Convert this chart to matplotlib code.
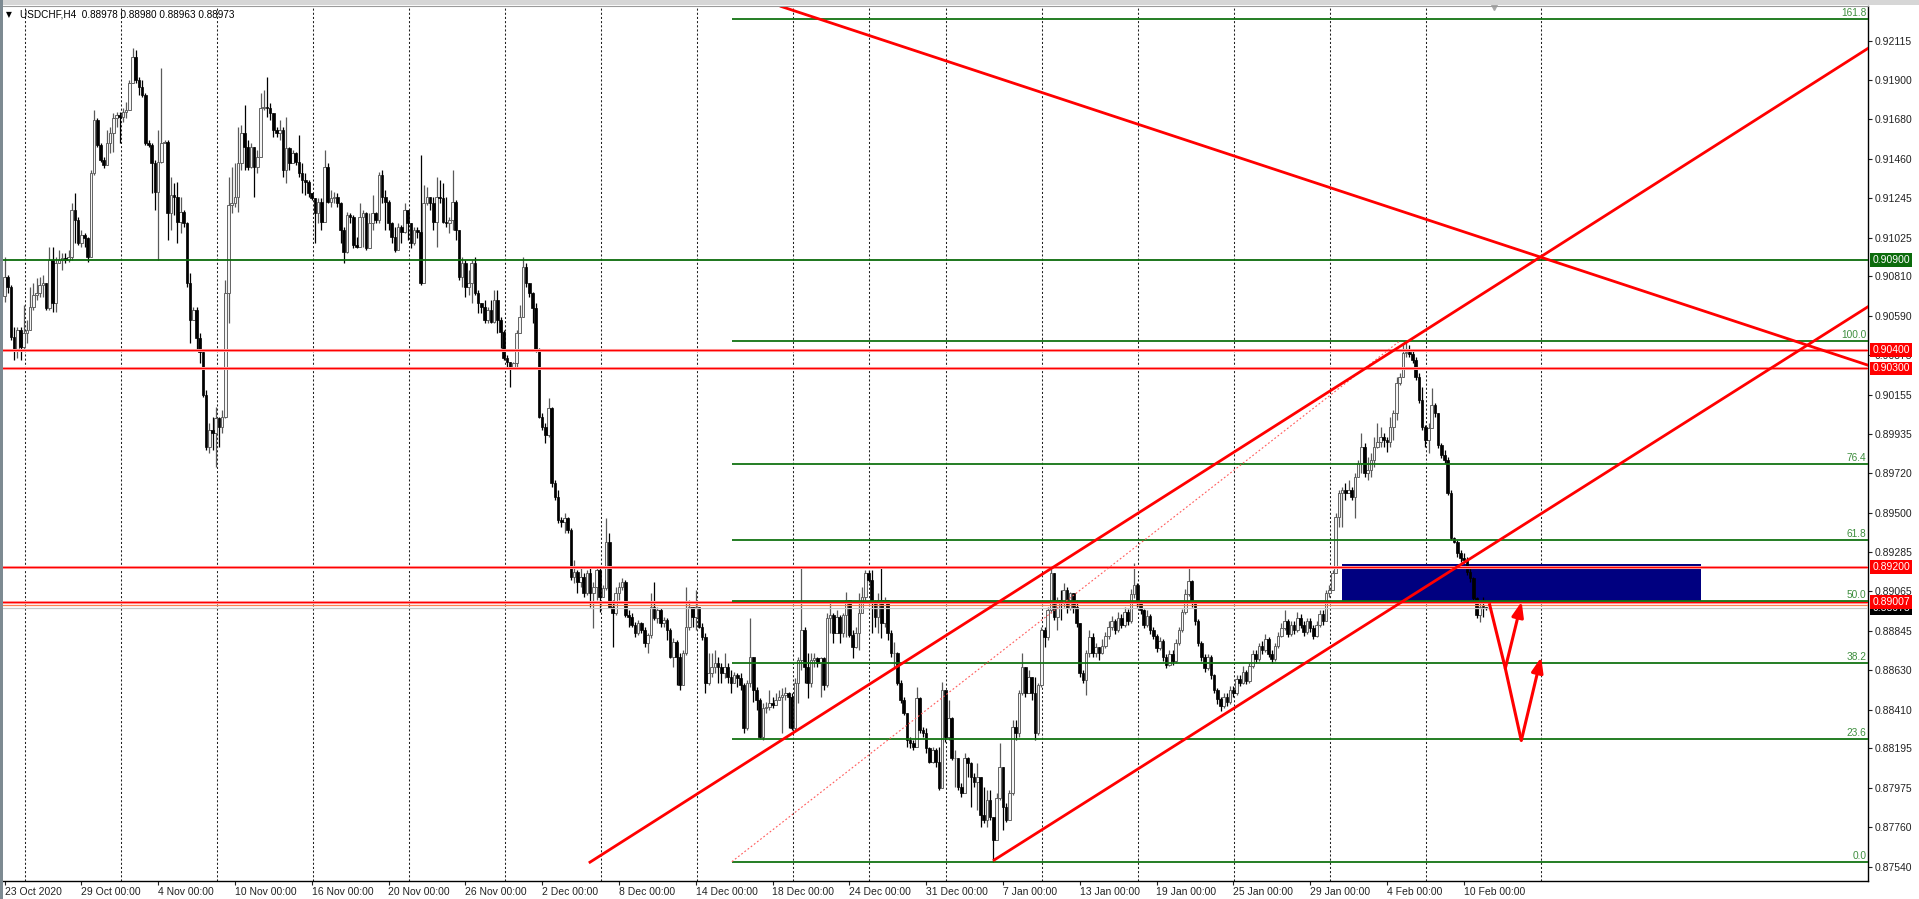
import matplotlib
matplotlib.use('Agg')
import matplotlib.pyplot as plt
from matplotlib import font_manager
from matplotlib.patches import Rectangle
import numpy as np

# ---------------- DATA (prices stored as 1e-5 units above 0.87000) ----------------
symbol_header = "USDCHF,H4  0.88978 0.88980 0.88963 0.88973"
first_open_q = 3700

close_q = [
    3808, 3753, 3476, 3402, 3513, 3420, 3494, 3513, 3642, 3706,
    3716, 3762, 3771, 3633, 3900, 3660, 3882, 3900, 3909, 3900,
    3919, 4177, 4122, 3993, 4039, 4020, 3919, 4380, 4676, 4537,
    4454, 4426, 4546, 4602, 4685, 4703, 4694, 4722, 4731, 4879,
    5026, 4897, 4860, 4814, 4546, 4537, 4436, 4279, 4445, 4546,
    4556, 4159, 4260, 4251, 4112, 4168, 4103, 3771, 3568, 3623,
    3466, 3393, 3153, 2866, 2959, 2940, 3023, 2977, 3033, 3716,
    4205, 4214, 4251, 4436, 4602, 4528, 4417, 4528, 4417, 4472,
    4740, 4749, 4740, 4712, 4620, 4602, 4620, 4399, 4519, 4436,
    4491, 4445, 4380, 4343, 4334, 4269, 4242, 4159, 4223, 4112,
    4417, 4223, 4242, 4251, 4214, 4066, 3946, 4149, 4140, 3983,
    3974, 4140, 4159, 3965, 4103, 4159, 4122, 4371, 4251, 4223,
    4103, 4029, 3956, 4085, 4057, 4177, 4103, 3993, 4066, 4057,
    3771, 4214, 4251, 4214, 4112, 4251, 4242, 4112, 4103, 4122,
    4223, 4066, 3808, 3882, 3753, 3771, 3882, 3716, 3660, 3642,
    3568, 3623, 3559, 3679, 3568, 3503, 3356, 3337, 3309, 3328,
    3494, 3586, 3863, 3771, 3716, 3633, 3402, 3033, 2977, 2931,
    3079, 2663, 2590, 2460, 2451, 2470, 2405, 2147, 2174, 2119,
    2147, 2054, 2165, 2054, 2091, 2183, 2036, 2082, 2340, 1980,
    1944, 2054, 2091, 2119, 1934, 1925, 1879, 1833, 1888, 1851,
    1777, 1824, 1980, 1916, 1962, 1888, 1907, 1851, 1704, 1787,
    1704, 1547, 1722, 1870, 1980, 1925, 1980, 1870, 1814, 1556,
    1611, 1648, 1667, 1648, 1611, 1648, 1593, 1556, 1602, 1584,
    1547, 1307, 1556, 1704, 1519, 1464, 1260, 1417, 1427, 1445,
    1436, 1464, 1482, 1491, 1500, 1482, 1307, 1556, 1685, 1851,
    1648, 1556, 1685, 1694, 1667, 1694, 1547, 1916, 1934, 1833,
    1925, 1833, 1934, 2017, 1824, 1759, 1833, 1944, 2036, 2165,
    2128, 1999, 1925, 2017, 1888, 2017, 1833, 1722, 1722, 1556,
    1464, 1390, 1242, 1224, 1205, 1473, 1297, 1279, 1196, 1122,
    1187, 1122, 974, 1519, 1260, 1362, 1140, 1140, 984, 947,
    1140, 1113, 1039, 1011, 1039, 827, 799, 910, 817, 688,
    919, 1094, 873, 799, 947, 1316, 1279, 1500, 1648, 1500,
    1593, 1500, 1279, 1547, 1851, 1814, 1962, 2165, 1925, 2017,
    1999, 2073, 1971, 2054, 1980, 1888, 1611, 1574, 1722, 1814,
    1722, 1759, 1722,
    1760, 1820, 1870, 1900, 1850, 1920, 1880,
    1950, 1900, 2050, 2100, 2000, 1960, 1880, 1930, 1850, 1820,
    1750, 1790, 1700, 1660, 1720, 1680, 1780, 1850, 1950, 2050,
    2120, 2000, 1900, 1780, 1700, 1640, 1700, 1600, 1520, 1470,
    1430, 1480, 1450, 1520, 1500, 1580, 1560, 1620, 1570, 1650,
    1720, 1690, 1760, 1740, 1800, 1720, 1690, 1760, 1820, 1860,
    1900, 1830, 1880, 1850, 1920, 1880, 1840, 1900, 1860, 1820,
    1880, 1940, 1900,
    2054, 2072, 2165, 2479, 2608, 2626, 2608,
    2626, 2589, 2700, 2774, 2866, 2719, 2737, 2792, 2866, 2894,
    2922, 2903, 2894, 2977, 3051, 3217, 3254, 3383, 3392, 3379,
    3346, 3254, 3125, 2977, 2903, 2968, 3097, 3051, 2875, 2820,
    2792, 2608, 2359, 2340, 2276, 2248, 2239, 2174, 2137, 2026,
    1934, 1980, 1978, 1973,
]

high_q = [
    3919, 3817, 3762, 3531, 3531, 3531, 3651, 3568, 3753, 3771,
    3799, 3808, 3817, 3771, 3974, 3974, 3919, 3956, 3937, 3937,
    3956, 4214, 4269, 4140, 4066, 4048, 4029, 4399, 4731, 4685,
    4546, 4472, 4620, 4639, 4712, 4722, 4722, 4740, 4777, 4897,
    5072, 5063, 4916, 4897, 4823, 4565, 4546, 4454, 4620, 4962,
    4565, 4565, 4362, 4325, 4334, 4251, 4177, 4112, 3826, 3642,
    3642, 3494, 3402, 3180, 2996, 3033, 3088, 3033, 3070, 3789,
    4362, 4417, 4436, 4639, 4648, 4759, 4565, 4546, 4528, 4509,
    4823, 4842, 4916, 4768, 4712, 4639, 4676, 4639, 4694, 4528,
    4509, 4500, 4592, 4436, 4380, 4343, 4269, 4242, 4242, 4242,
    4509, 4436, 4288, 4279, 4269, 4223, 4085, 4168, 4159, 4149,
    4029, 4214, 4177, 4168, 4159, 4260, 4168, 4389, 4399, 4288,
    4232, 4112, 4085, 4103, 4094, 4214, 4131, 4085, 4085, 4085,
    4482, 4316, 4306, 4251, 4251, 4362, 4343, 4325, 4251, 4140,
    4399, 4232, 4066, 3919, 3900, 3845, 3900, 3919, 3734, 3660,
    3679, 3642, 3679, 3734, 3734, 3586, 3513, 3374, 3328, 3337,
    3513, 3651, 3919, 3882, 3771, 3725, 3660, 3411, 3051, 2996,
    3134, 3088, 2682, 2627, 2479, 2497, 2479, 2414, 2239, 2183,
    2202, 2165, 2183, 2202, 2119, 2202, 2202, 2100, 2470, 2387,
    2017, 2091, 2119, 2137, 2128, 1962, 1944, 1897, 1907, 1897,
    1870, 1833, 2054, 2119, 1980, 1971, 1925, 1916, 1860, 1805,
    1796, 1722, 1740, 2091, 2017, 1980, 2073, 1980, 1888, 1833,
    1722, 1722, 1740, 1704, 1667, 1722, 1667, 1630, 1620, 1611,
    1611, 1556, 1574, 1916, 1704, 1537, 1473, 1445, 1454, 1519,
    1482, 1500, 1519, 1528, 1537, 1510, 1500, 1584, 1704, 2202,
    1870, 1722, 1722, 1722, 1704, 1704, 1704, 1944, 1999, 1944,
    1962, 1934, 1944, 2063, 2017, 1851, 1870, 2054, 2091, 2183,
    2183, 2183, 2017, 2054, 2193, 2036, 2017, 1851, 1787, 1731,
    1574, 1482, 1390, 1260, 1242, 1537, 1482, 1316, 1307, 1205,
    1205, 1196, 1205, 1565, 1519, 1464, 1371, 1187, 1140, 1002,
    1168, 1150, 1122, 1057, 1113, 1039, 984, 965, 965, 817,
    947, 1224, 1094, 891, 965, 1353, 1353, 1519, 1722, 1648,
    1630, 1593, 1593, 1556, 1870, 1870, 1980, 2193, 2165, 2036,
    2073, 2110, 2091, 2063, 2054, 2017, 1888, 1630, 1740, 1851,
    1833, 1777, 1759,
    1800, 1840, 1900, 1930, 1910, 1950, 1940,
    1980, 1970, 2080, 2220, 2110, 2020, 1970, 1960, 1940, 1870,
    1830, 1810, 1800, 1720, 1740, 1740, 1800, 1870, 1970, 2080,
    2200, 2130, 2010, 1910, 1790, 1720, 1720, 1710, 1610, 1530,
    1480, 1500, 1500, 1540, 1540, 1600, 1600, 1650, 1630, 1670,
    1740, 1740, 1780, 1790, 1830, 1810, 1740, 1780, 1840, 1890,
    1960, 1910, 1900, 1900, 1950, 1940, 1900, 1920, 1920, 1880,
    1900, 1960, 1960,
    2072, 2100, 2183, 2497, 2626, 2645, 2663,
    2682, 2645, 2719, 2792, 2940, 2885, 2811, 2829, 2922, 2995,
    2977, 2940, 2922, 3032, 3069, 3254, 3272, 3438, 3448, 3429,
    3402, 3365, 3272, 3199, 2986, 2995, 3189, 3106, 3051, 2885,
    2848, 2811, 2626, 2368, 2349, 2294, 2276, 2257, 2202, 2146,
    2036, 2017, 2036, 1980,
]

low_q = [
    3669, 3716, 3457, 3346, 3356, 3346, 3402, 3439, 3513, 3623,
    3679, 3697, 3697, 3623, 3623, 3614, 3614, 3882, 3845, 3882,
    3891, 3900, 3993, 3983, 3974, 3974, 3891, 3919, 4371, 4528,
    4445, 4408, 4426, 4491, 4500, 4639, 4546, 4666, 4685, 4731,
    4879, 4879, 4814, 4805, 4537, 4528, 4269, 4177, 3900, 4436,
    4546, 4011, 4066, 4149, 3993, 4048, 4085, 3753, 3439, 3568,
    3402, 3328, 3143, 2848, 2830, 2848, 2756, 2866, 2940, 3023,
    3549, 4159, 4196, 4168, 4399, 4399, 4399, 4408, 4251, 4380,
    4472, 4731, 4694, 4676, 4583, 4583, 4565, 4362, 4325, 4399,
    4436, 4426, 4362, 4269, 4260, 4251, 4232, 3993, 4103, 4066,
    4112, 4214, 4196, 4214, 4196, 3993, 3882, 3937, 4103, 3965,
    3965, 3974, 3974, 3956, 4066, 4066, 4103, 4103, 4214, 4066,
    4066, 3993, 3946, 3956, 3993, 4048, 4011, 3965, 3983, 4020,
    3762, 3771, 4205, 4177, 4066, 3974, 4214, 4103, 4085, 4048,
    4066, 4011, 3789, 3753, 3697, 3706, 3660, 3706, 3605, 3605,
    3549, 3549, 3549, 3549, 3494, 3411, 3346, 3309, 3199, 3300,
    3309, 3494, 3586, 3753, 3697, 3549, 3393, 3023, 2959, 2885,
    2922, 2645, 2571, 2442, 2423, 2387, 2387, 2128, 2110, 2054,
    2091, 2036, 2045, 1980, 1860, 2017, 1953, 2063, 2073, 1971,
    1759, 1934, 2017, 2073, 1925, 1870, 1870, 1814, 1824, 1833,
    1759, 1722, 1805, 1907, 1888, 1870, 1870, 1796, 1694, 1648,
    1547, 1519, 1547, 1713, 1851, 1870, 1851, 1860, 1796, 1500,
    1547, 1593, 1611, 1556, 1556, 1584, 1556, 1500, 1556, 1537,
    1519, 1279, 1297, 1537, 1454, 1408, 1251, 1242, 1390, 1408,
    1417, 1436, 1464, 1279, 1464, 1307, 1297, 1297, 1445, 1630,
    1556, 1473, 1537, 1648, 1648, 1482, 1519, 1537, 1833, 1777,
    1833, 1777, 1814, 1814, 1814, 1694, 1750, 1740, 1944, 2017,
    2119, 1833, 1870, 1833, 1805, 1870, 1796, 1704, 1648, 1547,
    1445, 1380, 1205, 1196, 1187, 1205, 1279, 1260, 1168, 1113,
    1113, 1094, 965, 984, 1233, 1242, 1131, 984, 965, 928,
    947, 1039, 873, 984, 854, 762, 781, 762, 799, 568,
    688, 910, 744, 790, 799, 937, 1242, 1260, 1491, 1482,
    1500, 1464, 1242, 1270, 1537, 1759, 1796, 1944, 1907, 1851,
    1907, 1980, 1944, 1962, 1944, 1870, 1593, 1556, 1491, 1704,
    1704, 1704, 1685,
    1720, 1750, 1800, 1850, 1830, 1840, 1860,
    1870, 1880, 1890, 2030, 1980, 1940, 1860, 1870, 1830, 1800,
    1730, 1740, 1680, 1640, 1650, 1660, 1670, 1770, 1840, 1940,
    2040, 1980, 1880, 1760, 1680, 1620, 1630, 1580, 1500, 1440,
    1400, 1420, 1430, 1440, 1480, 1490, 1540, 1550, 1550, 1560,
    1640, 1670, 1680, 1720, 1730, 1700, 1670, 1680, 1750, 1810,
    1850, 1810, 1820, 1830, 1840, 1860, 1820, 1830, 1840, 1800,
    1810, 1870, 1880,
    1980, 2036, 2100, 2174, 2423, 2423, 2571,
    2608, 2571, 2469, 2700, 2719, 2700, 2682, 2700, 2755, 2857,
    2866, 2866, 2839, 2866, 2903, 3014, 3208, 3254, 3365, 3365,
    3328, 3235, 3106, 2959, 2866, 2829, 2968, 3032, 2857, 2802,
    2774, 2599, 2349, 2331, 2257, 2229, 2220, 2156, 2119, 2017,
    1916, 1897, 1925, 1963,
]

date_labels = ['23 Oct 2020', '29 Oct 00:00', '4 Nov 00:00', '10 Nov 00:00', '16 Nov 00:00',
               '20 Nov 00:00', '26 Nov 00:00', '2 Dec 00:00', '8 Dec 00:00', '14 Dec 00:00',
               '18 Dec 00:00', '24 Dec 00:00', '31 Dec 00:00', '7 Jan 00:00', '13 Jan 00:00',
               '19 Jan 00:00', '25 Jan 00:00', '29 Jan 00:00', '4 Feb 00:00', '10 Feb 00:00']
date_bars = [0, 24, 48, 72, 96, 120, 144, 168, 192, 216, 240, 264, 288, 312, 336, 360, 384, 408, 432, 456]
grid_bars = [6.25, 36.25, 66.25, 96.25, 126.25, 156.25, 186.25, 216.25, 246.25, 270.2, 294.2,
             324.2, 354.2, 384.2, 414.2, 444.2, 480.2]

price_ticks = [0.92115, 0.91900, 0.91680, 0.91460, 0.91245, 0.91025, 0.90810, 0.90590, 0.90375,
               0.90155, 0.89935, 0.89720, 0.89500, 0.89285, 0.89065, 0.88845, 0.88630, 0.88410,
               0.88195, 0.87975, 0.87760, 0.87540]

green_levels = [0.90900]
red_levels = [0.90400, 0.90300, 0.89200, 0.89007]
orange_level = 0.88990
bid_price = 0.88973

fib_low, fib_high = 0.87568, 0.90453
fib_ratios = [0.0, 23.6, 38.2, 50.0, 61.8, 76.4, 100.0, 161.8]
fib_start_bar = 227.3
fib_trend = [(227.3, 0.87568), (436.1, 0.90453)]

trend_desc = [(242.3, 0.92307), (482.3, 0.90903)]
trend_up_upper = [(182.6, 0.87561), (439.2, 0.90457)]
trend_up_lower = [(308.9, 0.87573), (582.3, 0.90641)]

zone_bars = (418.0, 530.0)
zone_prices = (0.89013, 0.89216)

arrow_path = [(464.0, 0.88999), (469.0, 0.88639), (474.0, 0.88239)]
arrow_up1 = [(469.0, 0.88639), (474.1, 0.89008)]
arrow_up2 = [(474.0, 0.88239), (480.2, 0.88700)]

label_boxes = [(0.90900, '#0b6b0b'), (0.90400, '#ff0000'), (0.90300, '#ff0000'),
               (0.89200, '#ff0000'), (0.88973, '#000000'), (0.89007, '#ff0000')]

# ---------------- FIGURE ----------------
assert len(close_q) == len(high_q) == len(low_q), (len(close_q), len(high_q), len(low_q))

W, H = 1919, 899
fig = plt.figure(figsize=(W / 100, H / 100), dpi=100)
fig.patch.set_facecolor('white')

names = {f.name for f in font_manager.fontManager.ttflist}
if 'Liberation Sans Narrow' in names:
    xfont, xsize = 'Liberation Sans Narrow', 8.6
else:
    xfont, xsize = 'Liberation Sans', 7.5
yfont = 'Liberation Sans' if 'Liberation Sans' in names else 'DejaVu Sans'

left_px, right_px, top_px, bot_px = 3, 1868, 6, 881
ax = fig.add_axes([left_px / W, (H - bot_px) / H, (right_px - left_px) / W, (bot_px - top_px) / H])
ax.set_facecolor('white')

x_lo = (left_px - 4.5) / 3.2
x_hi = (right_px - 4.5) / 3.2
y_lo, y_hi = 0.874609, 0.923072
ax.set_xlim(x_lo, x_hi)
ax.set_ylim(y_lo, y_hi)

base = 0.87
closes = base + np.array(close_q) / 1e5
highs = base + np.array(high_q) / 1e5
lows = base + np.array(low_q) / 1e5
opens = np.concatenate([[base + first_open_q / 1e5], closes[:-1]])
n = len(closes)
idx = np.arange(n)
hi = np.maximum(highs, np.maximum(opens, closes))
lo = np.minimum(lows, np.minimum(opens, closes))
up = closes >= opens
bot = np.minimum(opens, closes)
hgt = np.maximum(np.abs(closes - opens), 0.00004)

# grid
for g in grid_bars:
    ax.axvline(g, color='#202020', lw=0.75, dashes=(2.0, 2.0), zorder=0.5)

# zone rectangle (background)
ax.add_patch(Rectangle((zone_bars[0], zone_prices[0]), zone_bars[1] - zone_bars[0],
                       zone_prices[1] - zone_prices[0], facecolor='#000080', edgecolor='none', zorder=1))

# candles
ax.vlines(idx[up], lo[up], hi[up], color='#5a5a5a', lw=0.9, zorder=3)
ax.vlines(idx[~up], lo[~up], hi[~up], color='#000000', lw=0.9, zorder=3)
ax.bar(idx[up], hgt[up], bottom=bot[up], width=0.8, color='#f4f4f4', edgecolor='#5a5a5a',
       linewidth=0.65, zorder=3.1)
ax.bar(idx[~up], hgt[~up], bottom=bot[~up], width=0.8, color='black', edgecolor='black',
       linewidth=0.5, zorder=3.1)

# horizontal lines
for lv in green_levels:
    ax.axhline(lv, color='#0b6b0b', lw=1.3, zorder=4)
for lv in red_levels:
    ax.axhline(lv, color='#ffb0b0', lw=2.2, zorder=4)
    ax.axhline(lv, color='#ff0000', lw=1.0, zorder=4.1)
ax.axhline(orange_level, color='#ff7f50', lw=0.9, zorder=4)
ax.axhline(bid_price, color='#c8c8c8', lw=0.9, zorder=3.9)

# fibonacci
for r in fib_ratios:
    lv = fib_low + (fib_high - fib_low) * r / 100.0
    ax.hlines(lv, fib_start_bar, x_hi, color='#137313', lw=1.3, zorder=4.2)
    ax.annotate('%.1f' % r, xy=(1, lv), xycoords=('axes fraction', 'data'), xytext=(-1.2, 0.6),
                textcoords='offset points', ha='right', va='bottom', fontsize=7.3,
                color='#3e8e3e', family=yfont, zorder=6)
(fx0, fy0), (fx1, fy1) = fib_trend
ax.plot([fx0, fx1], [fy0, fy1], color='#ff5a5a', lw=0.8, dashes=(1.6, 2.0), zorder=4.5)


def ray(pts, x_end, **kw):
    (x0, y0), (x1, y1) = pts
    s = (y1 - y0) / (x1 - x0)
    ax.plot([x0, x_end], [y0, y0 + s * (x_end - x0)], **kw)


ray(trend_desc, x_hi + 5, color='#ff0000', lw=2.0, zorder=5, solid_capstyle='butt')
ray(trend_up_upper, x_hi + 5, color='#ff0000', lw=2.0, zorder=5, solid_capstyle='butt')
ray(trend_up_lower, x_hi + 5, color='#ff0000', lw=2.0, zorder=5, solid_capstyle='butt')

# arrows
ax.plot([p[0] for p in arrow_path], [p[1] for p in arrow_path], color='#ff0000', lw=2.2,
        zorder=6, solid_capstyle='butt')
for a in (arrow_up1, arrow_up2):
    ax.annotate('', xy=a[1], xytext=a[0],
                arrowprops=dict(arrowstyle='-|>,head_length=0.9,head_width=0.35', color='#ff0000',
                                lw=2.2, shrinkA=0, shrinkB=0, mutation_scale=10), zorder=6)

# axes styling
for s in ['top', 'left']:
    ax.spines[s].set_visible(False)
ax.spines['right'].set_color('#000000')
ax.spines['bottom'].set_color('#000000')
ax.spines['right'].set_linewidth(1.0)
ax.spines['bottom'].set_linewidth(1.0)

ax.yaxis.tick_right()
ax.set_yticks(price_ticks)
ax.set_yticklabels(['%.5f' % t for t in price_ticks], fontsize=7.5, family=yfont, color='#222222')
ax.tick_params(axis='y', direction='out', length=3, width=0.8, pad=1.6, colors='#222222')

ax.set_xticks(date_bars)
ax.set_xticklabels(date_labels, fontsize=xsize, family=xfont, color='#222222')
for lbl in ax.get_xticklabels():
    lbl.set_horizontalalignment('left')
ax.tick_params(axis='x', direction='out', length=3, width=0.8, pad=1.0, colors='#222222')

# price label boxes on the right scale
for price, col in label_boxes:
    ax.annotate('%.5f' % price, xy=(1, price), xycoords=('axes fraction', 'data'), xytext=(3.0, 0),
                textcoords='offset points', ha='left', va='center', fontsize=7.5, family=yfont,
                color='white', zorder=10, annotation_clip=False,
                bbox=dict(boxstyle='square,pad=0.18', fc=col, ec='none'))

# window chrome
fig.patches.append(Rectangle((0, 1 - 5 / H), 1, 5 / H, transform=fig.transFigure,
                             facecolor='#d6d6d6', edgecolor='none', zorder=0))
fig.patches.append(Rectangle((0, 0), 2.5 / W, 1, transform=fig.transFigure,
                             facecolor='#7d8a92', edgecolor='none', zorder=0))
fig.add_artist(plt.Line2D([3 / W, right_px / W], [1 - 6 / H, 1 - 6 / H], color='#9a9a9a', lw=0.8,
                          transform=fig.transFigure))

ax.plot([465.5], [y_hi - 0.00005], marker='v', ms=5, color='#a8a8a8', clip_on=False, zorder=7)

fig.text(6 / W, 1 - 14.5 / H, '\u25BC', fontsize=5.5, va='center', ha='left',
         family=['DejaVu Sans'], color='#000000')
fig.text(20 / W, 1 - 14.5 / H, symbol_header, fontsize=7.2, va='center', ha='left',
         family=[yfont, 'DejaVu Sans'], color='#000000')

fig.savefig('out.png', dpi=100, facecolor='white')
